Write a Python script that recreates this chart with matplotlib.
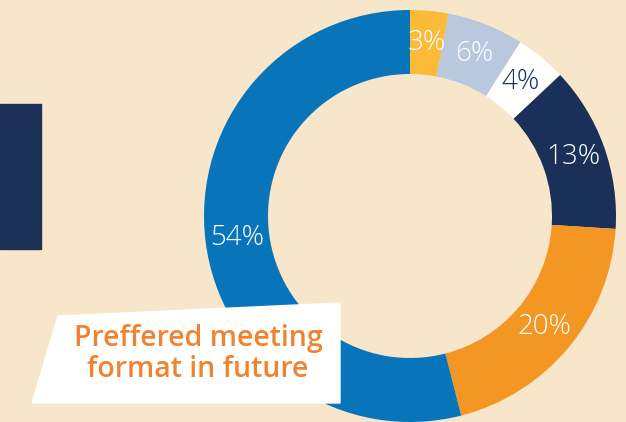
import matplotlib.pyplot as plt
from matplotlib.patches import Polygon, Rectangle

# slice shares, clockwise from 12 o'clock
shares = [3, 6, 4, 13, 20, 54]
colors = ['#FBBA38', '#B9C8DC', '#FFFFFF', '#1B3059', '#F39623', '#0875BB']
text_colors = ['white', 'white', '#1B3059', 'white', 'white', 'white']
title = 'Preffered meeting\nformat in future'

bg = '#F7E6C9'
W, H = 626, 422

fig = plt.figure(figsize=(W / 100, H / 100), dpi=100, facecolor=bg)
ax = fig.add_axes([0, 0, 1, 1])

# navy block on the left
ax.add_patch(Rectangle((0, H - 249), 41, 145, color='#1D3058', zorder=1))

wedges, texts, autotexts = ax.pie(
    shares, colors=colors, startangle=90, counterclock=False,
    center=(410, H - 216), radius=206, frame=True,
    wedgeprops=dict(width=64, linewidth=0),
    autopct='%d%%', pctdistance=0.845,
    textprops=dict(family='Open Sans', fontsize=20, fontweight='light',
                   color='white'))
for t, c in zip(autotexts, text_colors):
    t.set_color(c)
ax.set_xlim(0, W)
ax.set_ylim(0, H)
ax.set_aspect('equal')
ax.axis('off')

# white label card
card = [(58, H - 316), (340, H - 303), (340, H - 403), (32, H - 403)]
ax.add_patch(Polygon(card, closed=True, color='white', zorder=5))
ax.text(198, H - 354, title, ha='center', va='center', color='#F08230',
        fontsize=20.5, fontweight='semibold', family='Open Sans',
        linespacing=1.05, zorder=6)

fig.savefig('out.png', dpi=100, facecolor=bg)
